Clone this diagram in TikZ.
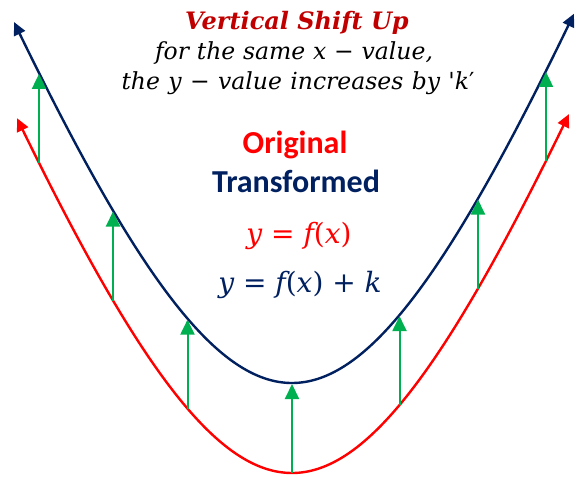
\documentclass[tikz,border=0pt]{standalone}
\usepackage{fontspec}
\newfontfamily\calibri{Carlito}
\newfontfamily\dvs{DejaVu Serif}
\usetikzlibrary{arrows.meta}
\definecolor{navy}{HTML}{002060}
\definecolor{pure red}{HTML}{FF0000}
\definecolor{arrowgreen}{HTML}{00B050}
\definecolor{darkred}{HTML}{C00000}
\newcommand{\vi}[1]{{\itshape #1}}
\newcommand{\vu}[1]{{\upshape #1}}
\begin{document}
\begin{tikzpicture}[x=1pt,y=1pt,
  declare function={hh(\t)=532*(sqrt(1+(\t/206.2)^2)-1);},
  curve/.style={line width=2.4pt, {Triangle[length=13pt,width=12pt]}-{Triangle[length=13pt,width=12pt]}},
  shiftarrow/.style={draw=arrowgreen, line width=2pt, -{Triangle[length=15pt,width=14pt]}, arrowgreen},
  lbl/.style={inner sep=0pt, anchor=base}]
\useasboundingbox (0,0) rectangle (577,476);
% curves
\draw[curve, pure red] plot[domain=-275:277, samples=160] ({292+\x},{3+hh(\x)});
\draw[curve, navy] plot[domain=-278:282, samples=160] ({292+\x},{93+hh(\x)});
% green shift arrows
\foreach \i/\xx in {1/39, 2/113, 3/187.5, 4/292, 5/399.5, 6/478, 7/546} {
  \pgfmathsetmacro{\yr}{3+hh(\xx-292)}
  \pgfmathsetmacro{\yb}{93+hh(\xx-292)}
  \coordinate (r\i) at (\xx,\yr);
  \coordinate (b\i) at (\xx,\yb-1);
  \draw[shiftarrow] (r\i) -- (b\i);
}
% texts
\node[lbl, text=darkred] (title) at (297,446) {\dvs\fontsize{24}{28}\selectfont\bfseries\itshape Vertical Shift Up};
\node[lbl] (line2) at (294,416) {\dvs\fontsize{23.5}{28}\selectfont\itshape\makebox[278pt][s]{for the same x \vu{−} value,}};
\node[lbl] (line3) at (298,386) {\dvs\fontsize{23.5}{28}\selectfont\itshape\makebox[353pt][s]{the y \vu{−} value increases by \vu{'}k\vu{′}}};
\node[lbl, text=pure red] (orig) at (295,322) {\calibri\bfseries\fontsize{32}{38}\selectfont Original};
\node[lbl, text=navy] (trans) at (296,283) {\calibri\bfseries\fontsize{32}{38}\selectfont Transformed};
\node[lbl, text=pure red] (eq1) at (299,232) {\dvs\fontsize{28}{32}\selectfont\vi{y} = \vi{f}(\vi{x})};
\node[lbl, text=navy] (eq2) at (300,183) {\dvs\fontsize{28}{32}\selectfont\vi{y} = \vi{f}(\vi{x}) + \vi{k}};
\end{tikzpicture}
\end{document}
